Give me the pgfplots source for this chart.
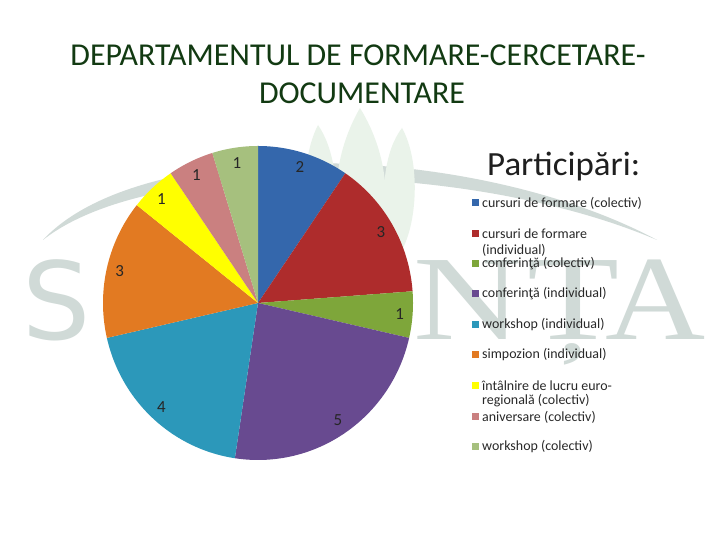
\documentclass[border=0pt]{standalone}
\usepackage{fontspec}
\setmainfont{Carlito}
\newfontfamily\wmserif{Liberation Serif}
\newfontfamily\wmsans{DejaVu Sans}
\usepackage{pgfplots}
\pgfplotsset{compat=1.18}

\definecolor{ttl}{RGB}{18,58,18}
\definecolor{lgd}{RGB}{40,40,40}
\definecolor{wm}{RGB}{208,218,215}
\definecolor{leaf}{RGB}{234,243,234}
\definecolor{c1}{RGB}{52,103,172}
\definecolor{c2}{RGB}{174,44,44}
\definecolor{c3}{RGB}{126,166,58}
\definecolor{c4}{RGB}{104,74,144}
\definecolor{c5}{RGB}{44,152,186}
\definecolor{c6}{RGB}{226,122,34}
\definecolor{c7}{RGB}{255,255,0}
\definecolor{c8}{RGB}{202,128,128}
\definecolor{c9}{RGB}{166,192,126}

% participation counts, clockwise from 12 o'clock
\def\total{21}
\def\cx{258}\def\cy{237}   % pie centre (bp, from bottom)
\def\rx{155}\def\ry{157}
\newcommand\lblfont{\fontsize{17}{17}\selectfont}

\newcommand\slice[2]{%
  \pgfmathsetmacro\aend{\astart-#2*360/\total}%
  \pgfmathsetmacro\amid{(\astart+\aend)/2}%
  \pgfmathsetmacro\lx{\cx+142*cos(\amid)}%
  \pgfmathsetmacro\ly{\cy+142*sin(\amid)}%
  \edef\doit{%
    \noexpand\addplot[fill=#1,draw=none,domain=\aend:\astart,samples=60,variable=\noexpand\t]
      ({\cx+\rx*cos(\noexpand\t)},{\cy+\ry*sin(\noexpand\t)}) -- (axis cs:\cx,\cy) -- cycle;
    \noexpand\node[font=\noexpand\lblfont,text=black!85] at (axis cs:\lx,\ly) {#2};}%
  \doit
  \xdef\astart{\aend}%
}

\begin{document}
\begin{tikzpicture}[x=1bp,y=1bp]
\useasboundingbox (0,0) rectangle (720,540);
\fill[white] (0,0) rectangle (720,540);

% faded watermark
\fill[wm] (43,300) .. controls (140,405) and (470,400) .. (657,300)
          .. controls (470,380) and (150,385) .. (43,300) -- cycle;
\fill[leaf] (360,432) .. controls (330,380) and (330,320) .. (352,280)
            -- (372,280) .. controls (392,320) and (392,380) .. (360,432) -- cycle;
\fill[leaf] (318,415) .. controls (300,380) and (302,320) .. (318,290)
            -- (334,300) .. controls (340,350) and (335,390) .. (318,415) -- cycle;
\fill[leaf] (402,412) .. controls (420,380) and (418,320) .. (402,290)
            -- (386,300) .. controls (380,350) and (385,390) .. (402,412) -- cycle;
\node[text=wm,font=\wmsans\fontsize{108}{108}\selectfont,anchor=base] at (57,200) {S};
\node[text=wm,font=\wmserif\fontsize{121}{121}\selectfont,anchor=base,xscale=1.25] at (468,200) {N};
\node[text=wm,font=\wmserif\fontsize{121}{121}\selectfont,anchor=base,xscale=1.25] at (574,200) {Ț};
\node[text=wm,font=\wmserif\fontsize{121}{121}\selectfont,anchor=base,xscale=1.15] at (656,200) {A};

% title
\node[text=ttl,font=\fontsize{32}{32}\selectfont,anchor=base] at (358,474) {DEPARTAMENTUL DE FORMARE-CERCETARE-};
\node[text=ttl,font=\fontsize{32}{32}\selectfont,anchor=base] at (362,436) {DOCUMENTARE};

\begin{axis}[at={(0,0)},anchor=south west,scale only axis,
  width=720bp,height=540bp,xmin=0,xmax=720,ymin=0,ymax=540,
  hide axis,clip=false]
\xdef\astart{90}
\slice{c1}{2}
\slice{c2}{3}
\slice{c3}{1}
\slice{c4}{5}
\slice{c5}{4}
\slice{c6}{3}
\slice{c7}{1}
\slice{c8}{1}
\slice{c9}{1}
\end{axis}

% legend
\node[text=black!88,font=\fontsize{34}{34}\selectfont,anchor=base west,inner sep=0,xscale=1.03] at (487,364) {Participări:};
\begin{scope}[every node/.style={text=lgd,font=\fontsize{14}{14}\selectfont,anchor=west,inner sep=0}]
\foreach \py/\cc/\txt in {203/c1/{cursuri de formare (colectiv)},
                          234/c2/{cursuri de formare},
                          264/c3/{conferinţă (colectiv)},
                          294/c4/{conferinţă (individual)},
                          325/c5/{workshop (individual)},
                          355/c6/{simpozion (individual)},
                          386/c7/{întâlnire de lucru euro-},
                          417/c8/{aniversare (colectiv)},
                          447/c9/{workshop (colectiv)}}{
  \fill[\cc] (472,{540-\py-3.5}) rectangle ++(7,7);
  \node at (482,{540-\py}) {\txt};
}
\node at (482,{540-250}) {(individual)};
\node at (482,{540-401}) {regională (colectiv)};
\end{scope}
\end{tikzpicture}
\end{document}
